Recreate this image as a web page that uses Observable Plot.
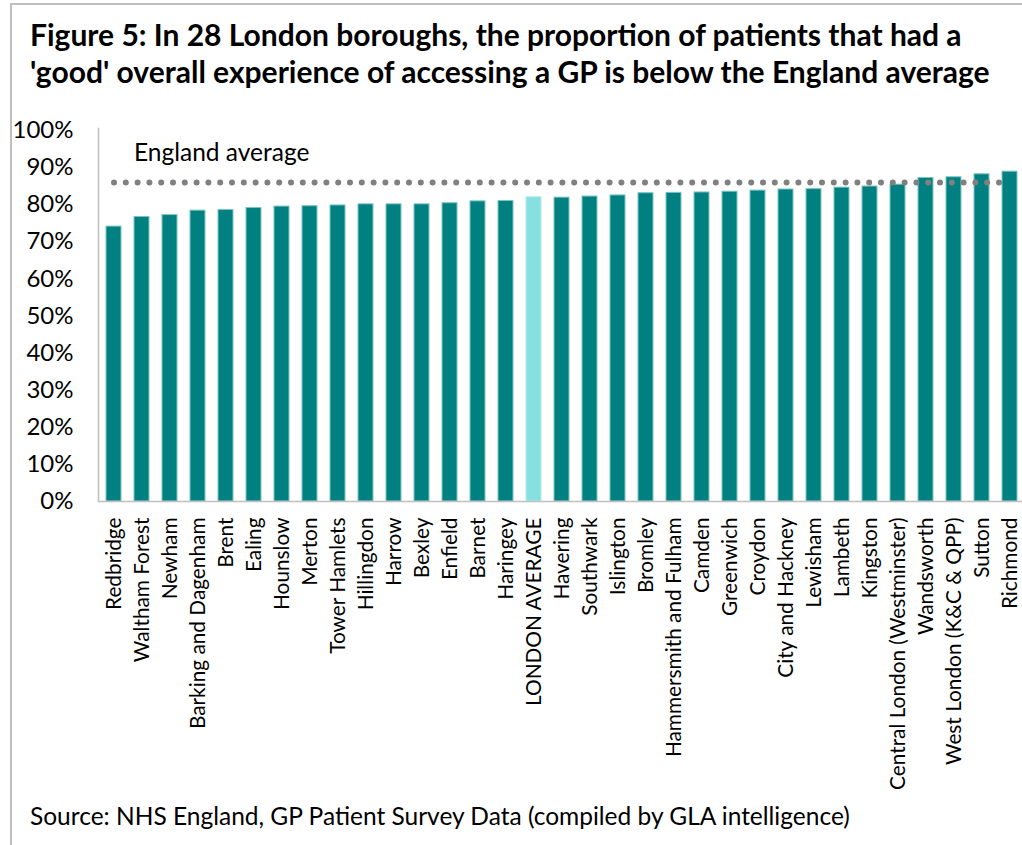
<!DOCTYPE html>
<html>
<head>
<meta charset="utf-8">
<script src="https://cdn.jsdelivr.net/npm/d3@7"></script>
<script src="https://cdn.jsdelivr.net/npm/@observablehq/plot@0.6"></script>
<style>
  html, body { margin: 0; padding: 0; background: #fff; }
  #wrap { position: relative; width: 1022px; height: 845px; overflow: hidden; font-family: Lato, "Open Sans", sans-serif; color: #000; }
  #frame { position: absolute; left: 10px; top: 3px; width: 1100px; height: 900px; border-top: 2px solid #bfbfbf; border-left: 2px solid #bfbfbf; }
  #title { position: absolute; left: 30px; top: 16px; font-weight: bold; font-size: 30px; line-height: 37px; white-space: nowrap; }
  #chart { position: absolute; left: 0; top: 110px; }
  #source { position: absolute; left: 30px; top: 801px; font-size: 24.5px; white-space: nowrap; }
</style>
</head>
<body>
<div id="wrap">
  <div id="frame"></div>
  <div id="title">Figure 5: In 28 London boroughs, the proportion of patients that had a<br>'good' overall experience of accessing a GP is below the England average</div>
  <div id="chart"></div>
  <div id="source">Source: NHS England, GP Patient Survey Data (compiled by GLA intelligence)</div>
</div>
<script>
const boroughs = ["Redbridge","Waltham Forest","Newham","Barking and Dagenham","Brent","Ealing","Hounslow","Merton","Tower Hamlets","Hillingdon","Harrow","Bexley","Enfield","Barnet","Haringey","LONDON AVERAGE","Havering","Southwark","Islington","Bromley","Hammersmith and Fulham","Camden","Greenwich","Croydon","City and Hackney","Lewisham","Lambeth","Kingston","Central London (Westminster)","Wandsworth","West London (K&C & QPP)","Sutton","Richmond"];
const values = [0.741,0.767,0.772,0.784,0.786,0.791,0.795,0.796,0.798,0.801,0.801,0.801,0.804,0.809,0.810,0.820,0.819,0.822,0.825,0.831,0.832,0.833,0.835,0.838,0.841,0.842,0.846,0.849,0.854,0.872,0.874,0.882,0.889];
const englandAverage = 0.86;
const englandLabel = "England average";
const highlight = "LONDON AVERAGE";
const yTicks = [0,0.1,0.2,0.3,0.4,0.5,0.6,0.7,0.8,0.9,1.0];

const data = boroughs.map((b, i) => ({name: b, value: values[i]}));
const avgLine = boroughs.map(b => ({name: b, value: englandAverage}));

const H = 690;
const chart = Plot.plot({
  width: 1022,
  height: H,
  marginLeft: 98,
  marginRight: 0,
  marginTop: 18,
  marginBottom: H - 391,
  style: {fontFamily: "Lato, 'Open Sans', sans-serif", fontSize: "20px", color: "#000", background: "transparent", overflow: "visible"},
  x: {domain: boroughs, range: [98, 1025], paddingInner: 0.45, paddingOuter: 0.225, label: null},
  y: {domain: [0, 1], range: [391, 20], ticks: yTicks, tickFormat: d3.format(".0%"), label: null},
  marks: [
    Plot.barY(data, {x: "name", y: "value", fill: d => d.name === highlight ? "#86e0e0" : "#008080", stroke: d => d.name === highlight ? "#b5eeee" : "#7fc4c4", strokeWidth: 1}),
    Plot.lineY(avgLine, {x: "name", y: "value", stroke: "#808080", strokeWidth: 6, strokeDasharray: "0 11.8", strokeLinecap: "round"}),
    Plot.text([englandLabel], {x: () => boroughs[0], y: () => englandAverage, text: d => d, dx: 20, dy: -29, textAnchor: "start", fontSize: 24.5, fill: "#000"}),
    Plot.axisY({ticks: yTicks, tickFormat: d3.format(".0%"), tickSize: 0, tickPadding: 25, fontSize: 24, label: null}),
    Plot.axisX({tickSize: 0, tickRotate: -90, tickPadding: 16, fontSize: 20.8, label: null}),
    Plot.frame({anchor: "left", stroke: "#bfbfbf", strokeWidth: 1.5}),
    Plot.ruleY([0], {stroke: "#bfbfbf", strokeWidth: 1.5})
  ]
});
document.getElementById("chart").appendChild(chart);
</script>
</body>
</html>
